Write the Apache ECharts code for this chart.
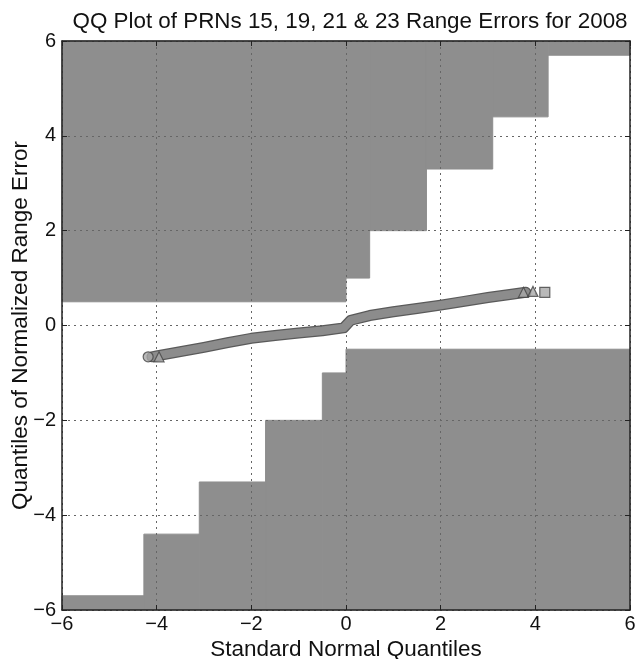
<!DOCTYPE html>
<html><head><meta charset="utf-8">
<script src="https://cdn.jsdelivr.net/npm/echarts@6/dist/echarts.min.js"></script>
<style>html,body{margin:0;padding:0;background:#fff}#c{width:637px;height:659px}</style>
</head><body><div id="c"></div>
<script>
// Axis ticks
const tickValues = [-6, -4, -2, 0, 2, 4, 6];
// Upper gray region: x-edges of steps and lower boundary (y) of each step
const upperEdgesX = [-6, 0, 0.5, 1.7, 3.1, 4.27, 6];
const upperBottomY = [0.5, 1.0, 2.0, 3.3, 4.4, 5.7];
// Lower gray region: x-edges of steps and upper boundary (y) of each step
const lowerEdgesX = [-6, -4.27, -3.1, -1.7, -0.5, 0, 6];
const lowerTopY = [-5.7, -4.4, -3.3, -2.0, -1.0, -0.5];
// QQ band
const qqX = [-4.1, -4.0, -3.5, -3.0, -2.5, -2.0, -1.5, -1.0, -0.5, -0.05, 0.1, 0.5, 1.0, 1.5, 2.0, 2.5, 3.0, 3.5, 3.8];
const qqY = [-0.66, -0.64, -0.55, -0.46, -0.36, -0.27, -0.21, -0.16, -0.11, -0.05, 0.11, 0.21, 0.29, 0.36, 0.43, 0.51, 0.59, 0.66, 0.70];
// End markers
const markerX = [-4.18, -3.95, 3.75, 3.95, 4.2];
const markerY = [-0.66, -0.66, 0.70, 0.72, 0.70];
const markerShape = ['circle', 'triangle', 'triangle', 'triangle', 'rect'];

const FONT = 'Liberation Sans, Arial, sans-serif';
const fmt = v => (v < 0 ? '\u2212' + Math.abs(v) : String(v));

const rects = [];
for (let i = 0; i < upperBottomY.length; i++) rects.push([upperEdgesX[i], upperEdgesX[i + 1], upperBottomY[i], 6]);
for (let i = 0; i < lowerTopY.length; i++) rects.push([lowerEdgesX[i], lowerEdgesX[i + 1], -6, lowerTopY[i]]);

const qqData = qqX.map((x, i) => [x, qqY[i]]);
const markerData = markerX.map((x, i) => ({ value: [x, markerY[i]], symbol: markerShape[i] }));

const baseAxis = {
  type: 'value', min: tickValues[0], max: tickValues[tickValues.length - 1], interval: 2,
  axisLine: { show: true, onZero: false, lineStyle: { color: '#222', width: 1.5 } },
  axisTick: { show: true, inside: true, length: 5, lineStyle: { color: '#222' } },
  splitLine: { show: false }
};

const chart = echarts.init(document.getElementById('c'));
chart.setOption({
  animation: false,
  backgroundColor: '#fff',
  title: {
    text: 'QQ Plot of PRNs 15, 19, 21 & 23 Range Errors for 2008',
    left: 345, top: 6, textAlign: 'center',
    textStyle: { fontFamily: FONT, fontSize: 22.4, fontWeight: 'normal', color: '#111' }
  },
  grid: { left: 62, right: 7, top: 41, bottom: 49, containLabel: false, outerBoundsMode: 'none' },
  xAxis: [
    Object.assign({}, baseAxis, {
      position: 'bottom',
      name: 'Standard Normal Quantiles', nameLocation: 'middle', nameGap: 28, nameMoveOverlap: false,
      nameTextStyle: { fontFamily: FONT, fontSize: 22.5, color: '#111' },
      axisLabel: { fontFamily: FONT, fontSize: 20, color: '#111', margin: 4, formatter: fmt },
      splitLine: { show: true, lineStyle: { color: '#666', type: [2, 4], width: 1 } }
    }),
    Object.assign({}, baseAxis, { position: 'top', axisLabel: { show: false } })
  ],
  yAxis: [
    Object.assign({}, baseAxis, {
      position: 'left',
      name: 'Quantiles of Normalized Range Error', nameLocation: 'middle', nameGap: 30, nameMoveOverlap: false,
      nameTextStyle: { fontFamily: FONT, fontSize: 22.5, color: '#111' },
      axisLabel: { fontFamily: FONT, fontSize: 20, color: '#111', margin: 6, formatter: fmt },
      splitLine: { show: true, lineStyle: { color: '#666', type: [2, 4], width: 1 } }
    }),
    Object.assign({}, baseAxis, { position: 'right', axisLabel: { show: false } })
  ],
  series: [
    {
      type: 'custom', z: -1, silent: true,
      data: rects,
      renderItem: function (params, api) {
        const p0 = api.coord([api.value(0), api.value(3)]);
        const p1 = api.coord([api.value(1), api.value(2)]);
        return {
          type: 'rect',
          shape: { x: p0[0], y: p0[1], width: p1[0] - p0[0], height: p1[1] - p0[1] },
          style: { fill: '#8e8e8e', stroke: '#8e8e8e', lineWidth: 1 }
        };
      },
      encode: { x: [0, 1], y: [2, 3] }
    },
    {
      type: 'line', data: qqData, showSymbol: false, smooth: false, z: 3,
      lineStyle: { color: '#5a5a5a', width: 11, cap: 'round', join: 'round' }
    },
    {
      type: 'line', data: qqData, showSymbol: false, smooth: false, z: 4,
      lineStyle: { color: '#8c8c8c', width: 8.5, cap: 'round', join: 'round' }
    },
    {
      type: 'scatter', data: markerData, symbolSize: 10, z: 5,
      itemStyle: { color: '#a8a8a8', borderColor: '#444', borderWidth: 1.2 }
    }
  ]
});
</script>
</body></html>
